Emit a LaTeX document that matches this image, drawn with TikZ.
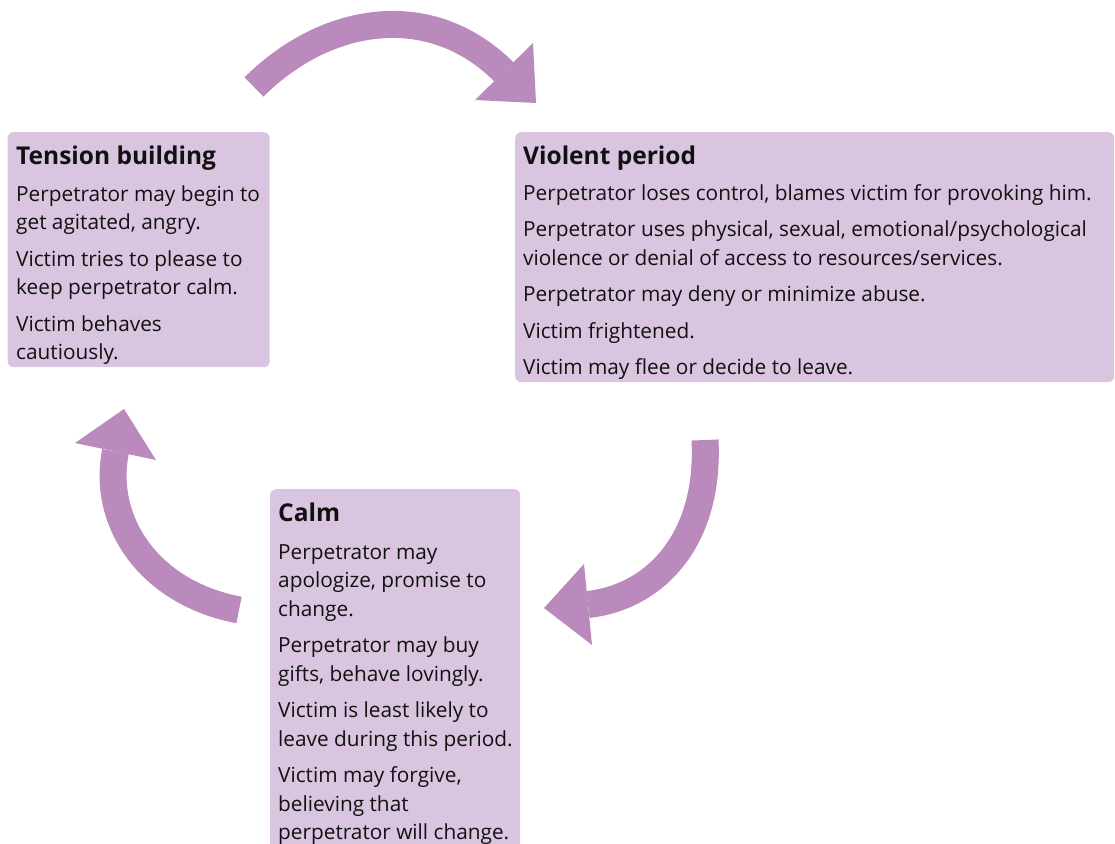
\documentclass[tikz,border=0pt]{standalone}
\usepackage{fontspec}
\setmainfont{Open Sans}
\definecolor{boxfill}{HTML}{DAC5E0}
\definecolor{arrowc}{HTML}{B98ABB}
\definecolor{txt}{HTML}{111111}
\begin{document}
\begin{tikzpicture}[x=1pt,y=-1pt,
  box/.style={fill=boxfill, rounded corners=6pt, draw=none, inner sep=0, anchor=north west},
  ttl/.style={anchor=base west, inner sep=0, text=txt, font=\fontsize{24.5}{30}\selectfont\bfseries},
  body/.style={anchor=north west, inner sep=0, align=left, text=txt, font=\fontsize{20.8}{28.5}\selectfont},
  shaft/.style={draw=arrowc, line width=27pt, line cap=butt},
  head/.style={fill=arrowc, draw=none}]
\useasboundingbox (0,0) rectangle (1115,843);

% boxes
\node[box, minimum width=262pt, minimum height=235pt] (tb) at (7.5,132) {};
\node[box, minimum width=599pt, minimum height=250pt] (vp) at (515,132) {};
\node[box, minimum width=250pt, minimum height=380pt] (cm) at (270,489) {};

% titles
\node[ttl] (tbt) at (16,164) {Tension building};
\node[ttl] (vpt) at (523,164) {Violent period};
\node[ttl] (cmt) at (278,521) {Calm};

% bodies
\node[body] (tbb) at (16,181) {\strut Perpetrator may begin to\\ get agitated, angry.\\[8pt] Victim tries to please to\\ keep perpetrator calm.\\[8pt] Victim behaves\\ cautiously.};
\node[body] (vpb) at (523,180) {\strut Perpetrator loses control, blames victim for provoking him.\\[8pt] Perpetrator uses physical, sexual, emotional/psychological\\ violence or denial of access to resources/services.\\[8pt] Perpetrator may deny or minimize abuse.\\[8pt] Victim frightened.\\[8pt] Victim may flee or decide to leave.};
\node[body] (cmb) at (278,539) {\strut Perpetrator may\\ apologize, promise to\\ change.\\[8pt] Perpetrator may buy\\ gifts, behave lovingly.\\[8pt] Victim is least likely to\\ leave during this period.\\[8pt] Victim may forgive,\\ believing that\\ perpetrator will change.};

% arrows
\coordinate (a1s) at (254,87);
\coordinate (a1e) at (504,72);
\draw[shaft] (a1s) .. controls (325,16) and (430,-2) .. (a1e);
\fill[head] (533,43) -- (536,103) -- (475,100) -- cycle;

\coordinate (a2s) at (705,440);
\coordinate (a2e) at (588,604.5);
\draw[shaft] (a2s) .. controls (710,540) and (655,597) .. (a2e);
\fill[head] (584,564) -- (544,608) -- (592,645) -- cycle;

\coordinate (a3s) at (239,610);
\coordinate (a3e) at (115.5,451.5);
\draw[shaft] (a3s) .. controls (149,593) and (101.5,521.5) .. (a3e);
\fill[head] (75,443) -- (124,409) -- (156,460) -- cycle;
\end{tikzpicture}
\end{document}
